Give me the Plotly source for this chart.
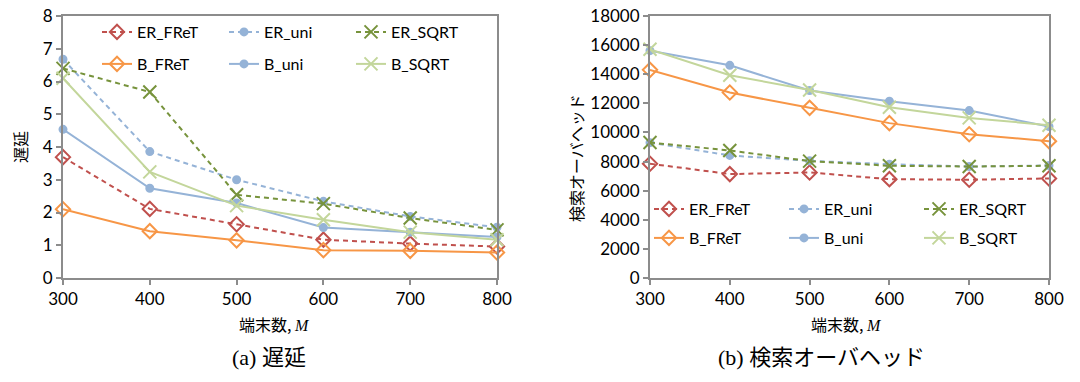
import plotly.graph_objects as go

# ---------------- data ----------------
terminals = [300, 400, 500, 600, 700, 800]

series_names = ["ER_FReT", "ER_uni", "ER_SQRT", "B_FReT", "B_uni", "B_SQRT"]

# (a) delay
delay_ER_FReT = [3.69, 2.11, 1.64, 1.17, 1.05, 0.96]
delay_ER_uni = [6.68, 3.86, 3.00, 2.34, 1.88, 1.55]
delay_ER_SQRT = [6.40, 5.68, 2.54, 2.27, 1.83, 1.47]
delay_B_FReT = [2.10, 1.43, 1.15, 0.85, 0.83, 0.78]
delay_B_uni = [4.54, 2.74, 2.29, 1.54, 1.40, 1.25]
delay_B_SQRT = [6.10, 3.24, 2.21, 1.78, 1.40, 1.17]

# (b) search overhead
ovh_ER_FReT = [7850, 7140, 7250, 6790, 6750, 6840]
ovh_ER_uni = [9300, 8420, 8050, 7820, 7660, 7730]
ovh_ER_SQRT = [9310, 8760, 8030, 7710, 7660, 7710]
ovh_B_FReT = [14300, 12740, 11690, 10640, 9880, 9400]
ovh_B_uni = [15620, 14610, 12880, 12140, 11500, 10410]
ovh_B_SQRT = [15710, 13930, 12920, 11730, 11000, 10500]

x_title_text = "端末数, <i><span style='font-family:Liberation Serif'>M</span></i>"
y_title_a = "遅延"
y_title_b = "検索オーバヘッド"
caption_a = "(a) 遅延"
caption_b = "(b) 検索オーバヘッド"

# ---------------- styles ----------------
styles = {
    "ER_FReT": dict(color="#C0504D", dash="5px,4px", symbol="diamond-open", size=11),
    "ER_uni": dict(color="#95B3D7", dash="5px,4px", symbol="circle", size=7),
    "ER_SQRT": dict(color="#77933C", dash="5px,4px", symbol="x-thin-open", size=13),
    "B_FReT": dict(color="#F79646", dash="solid", symbol="diamond-open", size=11),
    "B_uni": dict(color="#95B3D7", dash="solid", symbol="circle", size=7),
    "B_SQRT": dict(color="#C3D69B", dash="solid", symbol="x-thin-open", size=13),
}

delay_data = [delay_ER_FReT, delay_ER_uni, delay_ER_SQRT, delay_B_FReT, delay_B_uni, delay_B_SQRT]
ovh_data = [ovh_ER_FReT, ovh_ER_uni, ovh_ER_SQRT, ovh_B_FReT, ovh_B_uni, ovh_B_SQRT]

TICK_FONT = dict(family="Lato, Carlito, Calibri, sans-serif", size=17, color="#000000")
CJK = "Noto Sans CJK JP"

fig = go.Figure()

def add_series(data, xa, ya, legends):
    for i, (name, ys) in enumerate(zip(series_names, data)):
        st = styles[name]
        fig.add_trace(go.Scatter(
            x=terminals, y=ys, name=name, mode="lines+markers",
            xaxis=xa, yaxis=ya,
            legend=legends[0] if i < 3 else legends[1],
            cliponaxis=False,
            line=dict(color=st["color"], width=2, dash=st["dash"]),
            marker=dict(symbol=st["symbol"], size=st["size"], color=st["color"],
                        line=dict(color=st["color"], width=2)),
        ))

add_series(delay_data, "x", "y", ["legend", "legend2"])
add_series(ovh_data, "x2", "y2", ["legend3", "legend4"])

W, H = 1080, 382

def px_x(p):
    return p / W

def px_y(p):
    return 1 - p / H

axis_common = dict(
    showgrid=False, zeroline=False, showline=True, linecolor="#8C8C8C", linewidth=2,
    mirror=True, ticks="outside", ticklen=5, tickwidth=2, tickcolor="#8C8C8C",
    tickfont=TICK_FONT, automargin=False, tickformat="d", ticklabeloverflow="allow",
)

legend_common = dict(
    orientation="h", xanchor="left", yanchor="middle", bgcolor="rgba(0,0,0,0)",
    font=dict(family="Lato, Carlito, Calibri, sans-serif", size=16, color="#000000"),
    entrywidthmode="pixels", itemclick=False, borderwidth=0,
    traceorder="normal",
)

fig.update_layout(
    width=W, height=H,
    margin=dict(l=0, r=0, t=0, b=0, autoexpand=False),
    paper_bgcolor="white", plot_bgcolor="white",
    showlegend=True,
    xaxis=dict(domain=[px_x(63), px_x(497)], range=[300, 800], tickvals=terminals,
               anchor="y", **axis_common),
    yaxis=dict(domain=[px_y(278), px_y(16)], range=[0, 8], dtick=1, anchor="x",
               **axis_common),
    xaxis2=dict(domain=[px_x(650), px_x(1049)], range=[300, 800], tickvals=terminals,
                anchor="y2", **axis_common),
    yaxis2=dict(domain=[px_y(278), px_y(16)], range=[0, 18000], dtick=2000, anchor="x2",
                **axis_common),
    legend=dict(x=px_x(97), y=px_y(32), entrywidth=82, **legend_common),
    legend2=dict(x=px_x(97), y=px_y(64), entrywidth=82, **legend_common),
    legend3=dict(x=px_x(649), y=px_y(209), entrywidth=90, **legend_common),
    legend4=dict(x=px_x(649), y=px_y(238), entrywidth=90, **legend_common),
)

ann_font = dict(family=CJK, size=16, color="#000000")
cap_font = dict(family="Liberation Serif, " + CJK, size=22, color="#000000")

fig.add_annotation(text=x_title_text, x=px_x(274), y=px_y(324), xref="paper", yref="paper",
                   showarrow=False, font=ann_font, xanchor="center", yanchor="middle")
fig.add_annotation(text=x_title_text, x=px_x(846), y=px_y(324), xref="paper", yref="paper",
                   showarrow=False, font=ann_font, xanchor="center", yanchor="middle")
fig.add_annotation(text=y_title_a, x=px_x(20), y=px_y(147), xref="paper", yref="paper",
                   showarrow=False, font=ann_font, textangle=-90, xanchor="center", yanchor="middle")
fig.add_annotation(text=y_title_b, x=px_x(576), y=px_y(158), xref="paper", yref="paper",
                   showarrow=False, font=ann_font, textangle=-90, xanchor="center", yanchor="middle")
fig.add_annotation(text=caption_a, x=px_x(269), y=px_y(357), xref="paper", yref="paper",
                   showarrow=False, font=cap_font, xanchor="center", yanchor="middle")
fig.add_annotation(text=caption_b, x=px_x(821), y=px_y(357), xref="paper", yref="paper",
                   showarrow=False, font=cap_font, xanchor="center", yanchor="middle")

# remove the browser's default 8px body margin so the figure fills the window exactly
fig.write_html("out.html", config={"displayModeBar": False},
               post_script="document.body.style.margin='0px';")
